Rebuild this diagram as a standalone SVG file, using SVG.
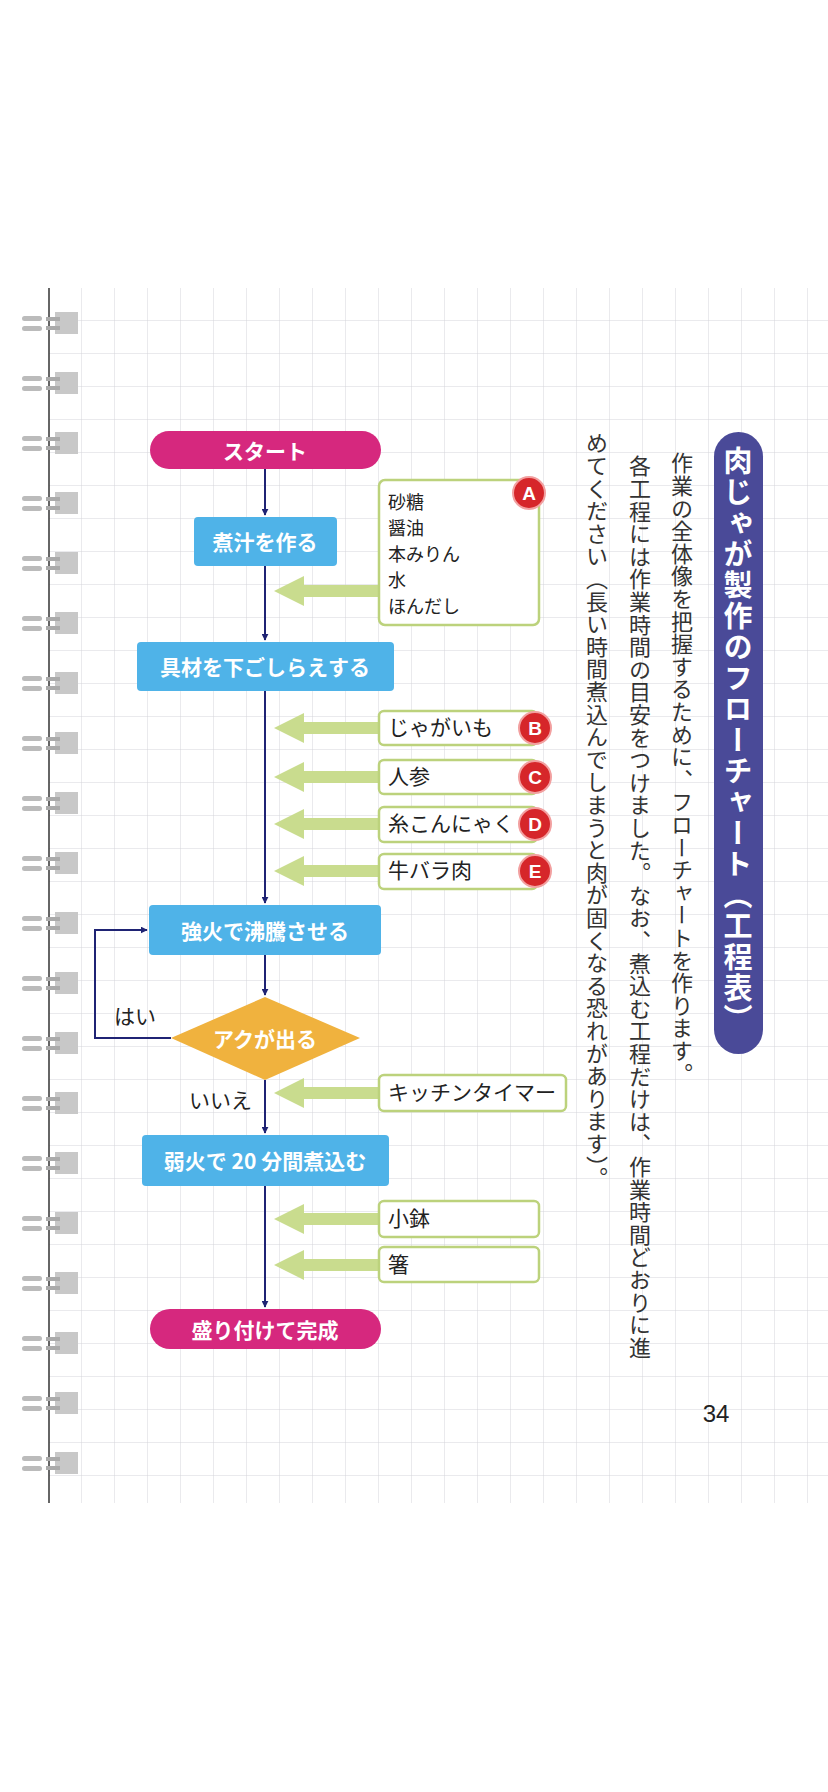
<svg xmlns="http://www.w3.org/2000/svg" width="828" height="1792" viewBox="0 0 828 1792">
<defs>
<pattern id="grid" x="49" y="288" width="33" height="33" patternUnits="userSpaceOnUse">
<path d="M33 0V33M0 33H33" fill="none" stroke="#d4d4da" stroke-width="1"/>
</pattern>
<marker id="nav" viewBox="0 0 10 10" refX="9" refY="5" markerWidth="7" markerHeight="7" orient="auto" markerUnits="userSpaceOnUse"><path d="M0 0L10 5L0 10z" fill="#1f2374"/></marker>
<g id="ring"><rect x="22" y="-7" width="20" height="5" rx="2.5" fill="#bbb"/><rect x="22" y="3" width="20" height="5" rx="2.5" fill="#bbb"/><rect x="55" y="-11" width="23" height="22" fill="#c8c8c8"/><rect x="46" y="-6" width="14" height="4" fill="#aaa"/><rect x="46" y="3" width="14" height="4" fill="#aaa"/></g>
<g id="garrow"><rect x="296" y="-6" width="84" height="12" fill="#c9dc8e"/><path d="M274 0L304 -15L304 15z" fill="#c9dc8e"/></g>
</defs>
<style>
.nt{font-family:"Noto Sans CJK JP","Noto Sans",sans-serif;font-weight:bold;font-size:21px;fill:#fff;text-anchor:middle;dominant-baseline:central}
.it{font-family:"Noto Sans CJK JP","Noto Sans",sans-serif;font-size:21px;fill:#222}
.ia{font-family:"Noto Sans CJK JP","Noto Sans",sans-serif;font-size:18px;fill:#222}
.box{fill:#fff;stroke:#bcd27c;stroke-width:2.5}
.blue{fill:#4fb3e8}
.mag{fill:#d6287e}
.ln{stroke:#1f2374;stroke-width:2;fill:none}
.rc{fill:#d6262a;stroke:#f2a0a0;stroke-width:2}
.rl{font-family:"Liberation Sans",sans-serif;font-weight:bold;font-size:19px;fill:#fff;text-anchor:middle;dominant-baseline:central}
.vt{font-family:"Noto Sans CJK JP",sans-serif;font-size:22px;fill:#333;writing-mode:vertical-rl;letter-spacing:0.6px}
</style>
<rect width="828" height="1792" fill="#fff"/>
<rect x="49" y="288" width="779" height="1215" fill="url(#grid)"/>
<line x1="49" y1="288" x2="49" y2="1503" stroke="#333" stroke-width="1.5"/>
<g id="rings">
<use href="#ring" y="323"/><use href="#ring" y="383"/><use href="#ring" y="443"/><use href="#ring" y="503"/><use href="#ring" y="563"/><use href="#ring" y="623"/><use href="#ring" y="683"/><use href="#ring" y="743"/><use href="#ring" y="803"/><use href="#ring" y="863"/><use href="#ring" y="923"/><use href="#ring" y="983"/><use href="#ring" y="1043"/><use href="#ring" y="1103"/><use href="#ring" y="1163"/><use href="#ring" y="1223"/><use href="#ring" y="1283"/><use href="#ring" y="1343"/><use href="#ring" y="1403"/><use href="#ring" y="1463"/>
</g>
<g id="connectors">
<line class="ln" x1="265" y1="469" x2="265" y2="515" marker-end="url(#nav)"/>
<line class="ln" x1="265" y1="566" x2="265" y2="640" marker-end="url(#nav)"/>
<line class="ln" x1="265" y1="691" x2="265" y2="903" marker-end="url(#nav)"/>
<line class="ln" x1="265" y1="955" x2="265" y2="995" marker-end="url(#nav)"/>
<polyline class="ln" points="171,1038 95,1038 95,930 147,930" marker-end="url(#nav)"/>
<line class="ln" x1="265" y1="1080" x2="265" y2="1133" marker-end="url(#nav)"/>
<line class="ln" x1="265" y1="1186" x2="265" y2="1307" marker-end="url(#nav)"/>
<use href="#garrow" y="591"/>
<use href="#garrow" y="728"/>
<use href="#garrow" y="777"/>
<use href="#garrow" y="824"/>
<use href="#garrow" y="871"/>
<use href="#garrow" y="1093"/>
<use href="#garrow" y="1219"/>
<use href="#garrow" y="1265"/>
</g>
<g id="start"><rect class="mag" x="150" y="431" width="231" height="38" rx="19"/><text class="nt" x="265" y="450">スタート</text></g>
<g id="n1"><rect class="blue" x="194" y="517" width="143" height="49" rx="4"/><text class="nt" x="265" y="541">煮汁を作る</text></g>
<g id="boxA"><rect class="box" x="379" y="480" width="160" height="145" rx="6"/>
<text class="ia" x="388" y="509">砂糖</text><text class="ia" x="388" y="535">醤油</text><text class="ia" x="388" y="561">本みりん</text><text class="ia" x="388" y="587">水</text><text class="ia" x="388" y="613">ほんだし</text>
<circle class="rc" cx="529" cy="493" r="16"/><text class="rl" x="529" y="493">A</text></g>
<g id="n2"><rect class="blue" x="137" y="642" width="257" height="49" rx="4"/><text class="nt" x="265" y="666">具材を下ごしらえする</text></g>
<g id="boxB"><rect class="box" x="379" y="711" width="158" height="34" rx="5"/><text class="it" x="388" y="735">じゃがいも</text><circle class="rc" cx="535" cy="728" r="16"/><text class="rl" x="535" y="728">B</text></g>
<g id="boxC"><rect class="box" x="379" y="760" width="158" height="34" rx="5"/><text class="it" x="388" y="784">人参</text><circle class="rc" cx="535" cy="777" r="16"/><text class="rl" x="535" y="777">C</text></g>
<g id="boxD"><rect class="box" x="379" y="807" width="158" height="35" rx="5"/><text class="it" x="388" y="831">糸こんにゃく</text><circle class="rc" cx="535" cy="824" r="16"/><text class="rl" x="535" y="824">D</text></g>
<g id="boxE"><rect class="box" x="379" y="854" width="158" height="35" rx="5"/><text class="it" x="388" y="878">牛バラ肉</text><circle class="rc" cx="535" cy="871" r="16"/><text class="rl" x="535" y="871">E</text></g>
<g id="n3"><rect class="blue" x="149" y="905" width="232" height="50" rx="4"/><text class="nt" x="265" y="930">強火で沸騰させる</text></g>
<g id="dec"><path d="M265 997L360 1038L265 1080L171 1038z" fill="#f0b23e" stroke-linejoin="round"/><text class="nt" x="265" y="1038">アクが出る</text></g>
<text class="it" x="114" y="1024">はい</text>
<text class="it" x="189" y="1108">いいえ</text>
<g id="boxT"><rect class="box" x="379" y="1075" width="187" height="36" rx="5"/><text class="it" x="388" y="1100">キッチンタイマー</text></g>
<g id="n4"><rect class="blue" x="142" y="1135" width="247" height="51" rx="4"/><text class="nt" x="265" y="1160">弱火で 20 分間煮込む</text></g>
<g id="boxK"><rect class="box" x="379" y="1201" width="160" height="36" rx="5"/><text class="it" x="388" y="1226">小鉢</text></g>
<g id="boxH"><rect class="box" x="379" y="1247" width="160" height="35" rx="5"/><text class="it" x="388" y="1272">箸</text></g>
<g id="end"><rect class="mag" x="150" y="1309" width="231" height="40" rx="20"/><text class="nt" x="265" y="1329">盛り付けて完成</text></g>
<g id="title"><rect x="714" y="432" width="49" height="622" rx="24.5" fill="#4a4a98"/>
<text x="738" y="446" style="font-family:'Noto Sans CJK JP',sans-serif;font-weight:bold;font-size:29px;fill:#fff;writing-mode:vertical-rl;letter-spacing:2px">肉じゃが製作のフローチャート（工程表）</text></g>
<text class="vt" x="682" y="452">作業の全体像を把握するために、フローチャートを作ります。</text>
<text class="vt" x="640" y="455">各工程には作業時間の目安をつけました。なお、煮込む工程だけは、作業時間どおりに進</text>
<text class="vt" x="597" y="432">めてください（長い時間煮込んでしまうと肉が固くなる恐れがあります）。</text>
<text x="716" y="1422" style="font-family:'Liberation Sans',sans-serif;font-size:24px;fill:#222;text-anchor:middle">34</text>
</svg>
